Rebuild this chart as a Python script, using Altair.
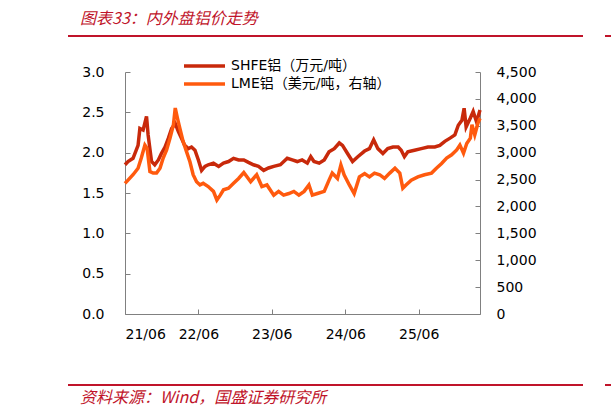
import altair as alt
import pandas as pd

SHFE_NAME = "SHFE铝（万元/吨）"
LME_NAME = "LME铝（美元/吨，右轴）"
TITLE = "图表33：内外盘铝价走势"
SOURCE = "资料来源：Wind，国盛证券研究所"

shfe_dates = [
    "2021-06-01", "2021-06-16", "2021-07-11", "2021-08-05", "2021-08-14", "2021-08-30",
    "2021-09-16", "2021-09-24", "2021-10-11", "2021-10-27", "2021-11-14", "2021-11-29",
    "2021-12-17", "2022-01-03", "2022-01-19", "2022-02-06", "2022-02-22", "2022-03-09",
    "2022-03-25", "2022-04-12", "2022-04-28", "2022-05-15", "2022-06-01", "2022-06-17",
    "2022-07-04", "2022-07-20", "2022-08-15", "2022-09-10", "2022-10-04", "2022-10-29",
    "2022-11-23", "2022-12-18", "2023-01-13", "2023-02-05", "2023-03-02", "2023-03-27",
    "2023-04-22", "2023-05-16", "2023-06-11", "2023-07-14", "2023-08-17", "2023-09-11",
    "2023-10-06", "2023-10-30", "2023-11-25", "2023-12-12", "2023-12-28", "2024-01-23",
    "2024-02-17", "2024-03-12", "2024-04-07", "2024-05-02", "2024-05-18", "2024-06-12",
    "2024-07-07", "2024-08-02", "2024-09-05", "2024-09-29", "2024-10-20", "2024-11-10",
    "2024-12-05", "2024-12-29", "2025-01-24", "2025-02-19", "2025-03-06", "2025-03-22",
    "2025-04-08", "2025-05-11", "2025-06-14", "2025-07-17", "2025-08-20", "2025-09-14",
    "2025-10-09", "2025-11-04", "2025-11-28", "2025-12-15", "2026-01-02", "2026-01-13",
    "2026-01-23", "2026-02-13", "2026-02-27", "2026-03-16", "2026-04-02",
]
shfe_vals = [
    1.85, 1.89, 1.93, 2.09, 2.30, 2.28,
    2.45, 2.22, 1.89, 1.85, 1.91, 1.99,
    2.07, 2.18, 2.30, 2.36, 2.26, 2.18,
    2.09, 2.05, 2.07, 2.03, 1.91, 1.78,
    1.83, 1.85, 1.87, 1.83, 1.87, 1.89,
    1.93, 1.91, 1.91, 1.88, 1.85, 1.83,
    1.78, 1.81, 1.83, 1.85, 1.93, 1.91,
    1.89, 1.91, 1.87, 1.95, 1.89, 1.87,
    1.91, 2.01, 2.05, 2.12, 2.09, 1.99,
    1.89, 1.95, 2.02, 2.05, 2.16, 2.05,
    1.99, 2.05, 2.07, 2.07, 2.03, 1.95,
    2.01, 2.03, 2.05, 2.07, 2.07, 2.09,
    2.14, 2.18, 2.22, 2.34, 2.40, 2.55,
    2.32, 2.43, 2.51, 2.38, 2.53,
]

lme_dates = [
    "2021-06-01", "2021-06-16", "2021-07-11", "2021-08-05", "2021-08-21", "2021-09-08",
    "2021-09-19", "2021-10-03", "2021-10-19", "2021-11-05", "2021-11-22", "2021-12-08",
    "2021-12-25", "2022-01-11", "2022-01-28", "2022-02-06", "2022-02-17", "2022-03-01",
    "2022-03-17", "2022-04-03", "2022-04-20", "2022-05-06", "2022-05-23", "2022-06-09",
    "2022-06-25", "2022-07-20", "2022-08-15", "2022-09-01", "2022-09-18", "2022-10-04",
    "2022-10-29", "2022-11-23", "2022-12-18", "2023-01-13", "2023-02-16", "2023-03-18",
    "2023-04-13", "2023-05-08", "2023-06-11", "2023-07-05", "2023-07-30", "2023-08-25",
    "2023-09-19", "2023-10-14", "2023-11-09", "2023-12-03", "2023-12-20", "2024-01-14",
    "2024-02-17", "2024-03-12", "2024-03-28", "2024-04-23", "2024-05-10", "2024-05-26",
    "2024-06-21", "2024-07-15", "2024-08-10", "2024-09-05", "2024-09-29", "2024-10-24",
    "2024-11-19", "2024-12-13", "2025-01-08", "2025-02-03", "2025-02-27", "2025-03-14",
    "2025-03-30", "2025-04-25", "2025-05-28", "2025-06-30", "2025-08-04", "2025-08-28",
    "2025-09-23", "2025-10-18", "2025-11-12", "2025-12-07", "2025-12-23", "2026-01-10",
    "2026-01-26", "2026-02-13", "2026-02-21", "2026-03-07", "2026-03-23", "2026-04-02",
]
lme_vals = [
    2430, 2490, 2590, 2710, 2900, 3140,
    3080, 2650, 2620, 2620, 2710, 2900,
    3050, 3270, 3520, 3830, 3640, 3450,
    3210, 3020, 2830, 2590, 2460, 2400,
    2430, 2370, 2280, 2120, 2210, 2310,
    2340, 2430, 2520, 2630, 2460, 2590,
    2370, 2400, 2210, 2280, 2210, 2240,
    2280, 2210, 2280, 2400, 2210, 2240,
    2280, 2490, 2620, 2520, 2770, 2590,
    2400, 2240, 2550, 2610, 2550, 2620,
    2590, 2520, 2620, 2710, 2620, 2340,
    2400, 2490, 2550, 2590, 2620, 2710,
    2800, 2900, 2960, 3050, 3140, 2990,
    3170, 3270, 3520, 3330, 3550, 3640,
]

x_tick_dates = [(2021, 6), (2022, 6), (2023, 6), (2024, 6), (2025, 6)]
left_ticks = [0, 0.5, 1.0, 1.5, 2.0, 2.5, 3.0]
right_ticks = [0, 500, 1000, 1500, 2000, 2500, 3000, 3500, 4000, 4500]

RED = "#C0142A"
SHFE_COLOR = "#C8290B"
LME_COLOR = "#FF5A0E"
AXIS_GRAY = "#808080"
LAT_FONT = "DejaVu Sans, Noto Sans CJK SC"
CJK_FONT = "Noto Sans CJK SC"

shfe_df = pd.DataFrame({"date": shfe_dates, "value": shfe_vals, "series": SHFE_NAME})
lme_df = pd.DataFrame({"date": lme_dates, "value": lme_vals, "series": LME_NAME})

color = alt.Color(
    "series:N",
    scale=alt.Scale(domain=[SHFE_NAME, LME_NAME], range=[SHFE_COLOR, LME_COLOR]),
    legend=alt.Legend(
        title=None, orient="none", legendX=57, legendY=-14, direction="vertical",
        symbolType="stroke", symbolSize=1681, symbolStrokeWidth=3.5, clipHeight=16,
        rowPadding=2, labelFontSize=14, labelFont=LAT_FONT, labelColor="#000000",
        labelOffset=4, padding=0, labelLimit=400,
    ),
)

x_enc = alt.X(
    "date:T",
    scale=alt.Scale(
        type="utc",
        domain=[alt.DateTime(year=2021, month=6, date=1, utc=True),
                alt.DateTime(year=2026, month=4, date=2, utc=True)],
    ),
    axis=alt.Axis(
        title=None,
        values=[alt.DateTime(year=y, month=m, date=1, utc=True) for y, m in x_tick_dates],
        format="%y/%m", labelFontSize=14, labelFont=LAT_FONT, labelColor="#000000",
        domainColor=AXIS_GRAY, tickColor=AXIS_GRAY, tickSize={"expr": "-5"},
        labelPadding=18, grid=False, labelAngle=0,
    ),
)

shfe = alt.Chart(shfe_df).mark_line(strokeWidth=3.5).encode(
    x=x_enc,
    y=alt.Y(
        "value:Q",
        scale=alt.Scale(domain=[0, 3]),
        axis=alt.Axis(
            title=None, orient="left", values=left_ticks, format=".1f",
            labelFontSize=14, labelFont=LAT_FONT, labelColor="#000000",
            domainColor=AXIS_GRAY, tickColor=AXIS_GRAY, tickSize={"expr": "-5"},
            labelPadding=26, grid=False,
        ),
    ),
    color=color,
)

lme = alt.Chart(lme_df).mark_line(strokeWidth=3.5).encode(
    x=x_enc,
    y=alt.Y(
        "value:Q",
        scale=alt.Scale(domain=[0, 4500]),
        axis=alt.Axis(
            title=None, orient="right", values=right_ticks, format=",.0f",
            labelFontSize=14, labelFont=LAT_FONT, labelColor="#000000",
            domainColor=AXIS_GRAY, tickColor=AXIS_GRAY, tickSize={"expr": "-5"},
            labelPadding=21, grid=False,
        ),
    ),
    color=color,
)

title_txt = alt.Chart(pd.DataFrame({"t": [TITLE]})).mark_text(
    align="left", baseline="middle", font=CJK_FONT, fontSize=16, fontStyle="italic", color=RED
).encode(text="t:N", x=alt.value(-45), y=alt.value(-53))

source_txt = alt.Chart(pd.DataFrame({"t": [SOURCE]})).mark_text(
    align="left", baseline="middle", font=CJK_FONT, fontSize=16, fontStyle="italic", color=RED
).encode(text="t:N", x=alt.value(-45), y=alt.value(326))

rule_df = pd.DataFrame({"k": [0]})
top_rule = alt.Chart(rule_df).mark_rule(color=RED, strokeWidth=2).encode(
    x=alt.value(-57), x2=alt.value(458), y=alt.value(-36))
top_rule2 = alt.Chart(rule_df).mark_rule(color=RED, strokeWidth=2).encode(
    x=alt.value(480), x2=alt.value(490), y=alt.value(-36))
bot_rule = alt.Chart(rule_df).mark_rule(color=RED, strokeWidth=2).encode(
    x=alt.value(-57), x2=alt.value(458), y=alt.value(313))
bot_rule2 = alt.Chart(rule_df).mark_rule(color=RED, strokeWidth=2).encode(
    x=alt.value(480), x2=alt.value(490), y=alt.value(313))

chart = alt.layer(
    shfe, lme, title_txt, source_txt, top_rule, top_rule2, bot_rule, bot_rule2
).resolve_scale(y="independent").properties(
    width=355, height=242,
    autosize=alt.AutoSizeParams(type="none"),
    padding={"left": 125, "top": 72, "right": 131, "bottom": 103},
    background="white",
).configure_view(stroke=None)

chart.save("out.html", embed_options={"renderer": "svg", "actions": False})
